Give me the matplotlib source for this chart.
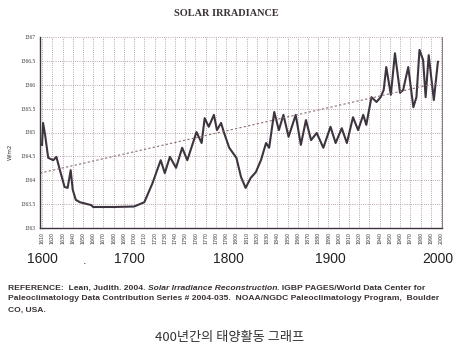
import numpy as np
import matplotlib.pyplot as plt

# traced Lean (2004) solar irradiance reconstruction, W/m2
years = [1610, 1611, 1613, 1616, 1621, 1624, 1627.5, 1632, 1635, 1638, 1640, 1643, 1647, 1658,
         1660, 1680, 1700, 1710, 1718, 1726, 1730, 1735, 1741, 1747, 1752, 1761, 1766,
         1769, 1773, 1778, 1781, 1785, 1788, 1793, 1800, 1804.5, 1809, 1814, 1819, 1824,
         1829, 1832, 1837, 1841.5, 1846, 1851, 1858, 1863, 1868, 1873, 1878.5, 1885,
         1892, 1897, 1903, 1908, 1914, 1919, 1924, 1927, 1932, 1937, 1941, 1944, 1946.5,
         1951, 1955, 1960, 1963, 1968, 1973, 1976, 1979, 1982.5, 1985, 1988, 1993, 1997]
irradiance = [1364.74, 1365.20, 1364.95, 1364.47, 1364.42, 1364.49, 1364.21, 1363.86, 1363.84,
              1364.21, 1363.80, 1363.59, 1363.54, 1363.48, 1363.44, 1363.44, 1363.45,
              1363.54, 1363.94, 1364.42, 1364.15, 1364.49, 1364.26, 1364.68, 1364.42,
              1365.01, 1364.78, 1365.30, 1365.12, 1365.37, 1365.05, 1365.20, 1364.99,
              1364.68, 1364.47, 1364.07, 1363.84, 1364.05, 1364.17, 1364.42, 1364.78,
              1364.68, 1365.43, 1365.05, 1365.37, 1364.91, 1365.37, 1364.74, 1365.26,
              1364.84, 1364.99, 1364.68, 1365.12, 1364.78, 1365.09, 1364.78, 1365.32,
              1365.05, 1365.37, 1365.16, 1365.74, 1365.64, 1365.74, 1365.89, 1366.37,
              1365.79, 1366.66, 1365.83, 1365.89, 1366.37, 1365.53, 1365.74, 1366.73,
              1366.52, 1365.74, 1366.62, 1365.68, 1366.48]

trend_years = [1608, 1997]
trend_values = [1364.15, 1366.04]

xtick_years = list(range(1610, 2001, 10))
ytick_values = [1363, 1363.5, 1364, 1364.5, 1365, 1365.5, 1366, 1366.5, 1367]
big_years = ["1600", "1700", "1800", "1900", "2000"]

grid_col = '#a58a90'
line_col = '#3e3440'
text_col = '#3a3236'

fig = plt.figure(figsize=(4.64, 3.6), dpi=100)
ax = fig.add_axes([40/464, 1-228/360, 402/464, 191/360])

ax.plot(years, irradiance, color=line_col, lw=1.5)
ax.plot(trend_years, trend_values, color='#8a6a72', lw=0.8, linestyle=(0, (2, 2)))

ax.set_xlim(1608, 2001)
ax.set_ylim(1363, 1367)
ax.set_xticks(xtick_years)
ax.set_xticklabels([str(y) for y in xtick_years], rotation=90, fontsize=3.4, color=text_col)
ax.set_yticks(ytick_values)
ax.set_yticklabels([('%g' % v) for v in ytick_values], fontsize=4, color=text_col,
                   family='Liberation Serif')
ax.tick_params(length=0, pad=3)
ax.grid(True, color=grid_col, lw=0.6, linestyle=(0, (1, 1.6)))
ax.set_axisbelow(True)
ax.spines['top'].set_visible(False)
ax.spines['left'].set_color(line_col)
ax.spines['bottom'].set_color(line_col)
ax.spines['right'].set_color('#8a7a80')
ax.spines['left'].set_linewidth(1.0)
ax.spines['bottom'].set_linewidth(1.0)
ax.spines['right'].set_linewidth(0.7)

fig.text(10/464, 1-152/360, 'W/m2', rotation=90, fontsize=4, color=text_col,
         ha='center', va='center')

fig.text(226/464, 1-14/360, 'SOLAR IRRADIANCE', fontsize=7.4, fontweight='bold',
         family='Liberation Serif', color=text_col, ha='center', va='center')

big_x = [42, 129, 228, 330, 438]
for lab, px in zip(big_years, big_x):
    fig.text(px/464, 1-259/360, lab, fontsize=10, family='Liberation Sans',
             color='#222222', ha='center', va='center')
fig.text(85/464, 1-261/360, '.', fontsize=8, color='#222222', ha='center', va='center')

# reference lines, with the italic title piece placed after measuring
fig.canvas.draw()
renderer = fig.canvas.get_renderer()

def write_pieces(x0, y, pieces):
    x = x0
    for txt, style in pieces:
        t = fig.text(x/464, 1-y/360, txt, fontsize=6.1, fontweight='bold',
                     style=style, family='Liberation Sans', color=text_col,
                     ha='left', va='center')
        bb = t.get_window_extent(renderer)
        x += bb.width

write_pieces(8, 288, [("REFERENCE:  Lean, Judith. 2004. ", 'normal'),
                      ("Solar Irradiance Reconstruction", 'italic'),
                      (". IGBP PAGES/World Data Center for", 'normal')])
write_pieces(8, 299, [("Paleoclimatology Data Contribution Series # 2004-035.  NOAA/NGDC Paleoclimatology Program,  Boulder", 'normal')])
write_pieces(8, 310, [("CO, USA.", 'normal')])

fig.text(230/464, 1-338/360, '400년간의 태양활동 그래프', fontsize=9.5,
         family=['Noto Sans CJK KR', 'DejaVu Sans'], color='#333333',
         ha='center', va='center')

fig.savefig('out.png', dpi=100)
